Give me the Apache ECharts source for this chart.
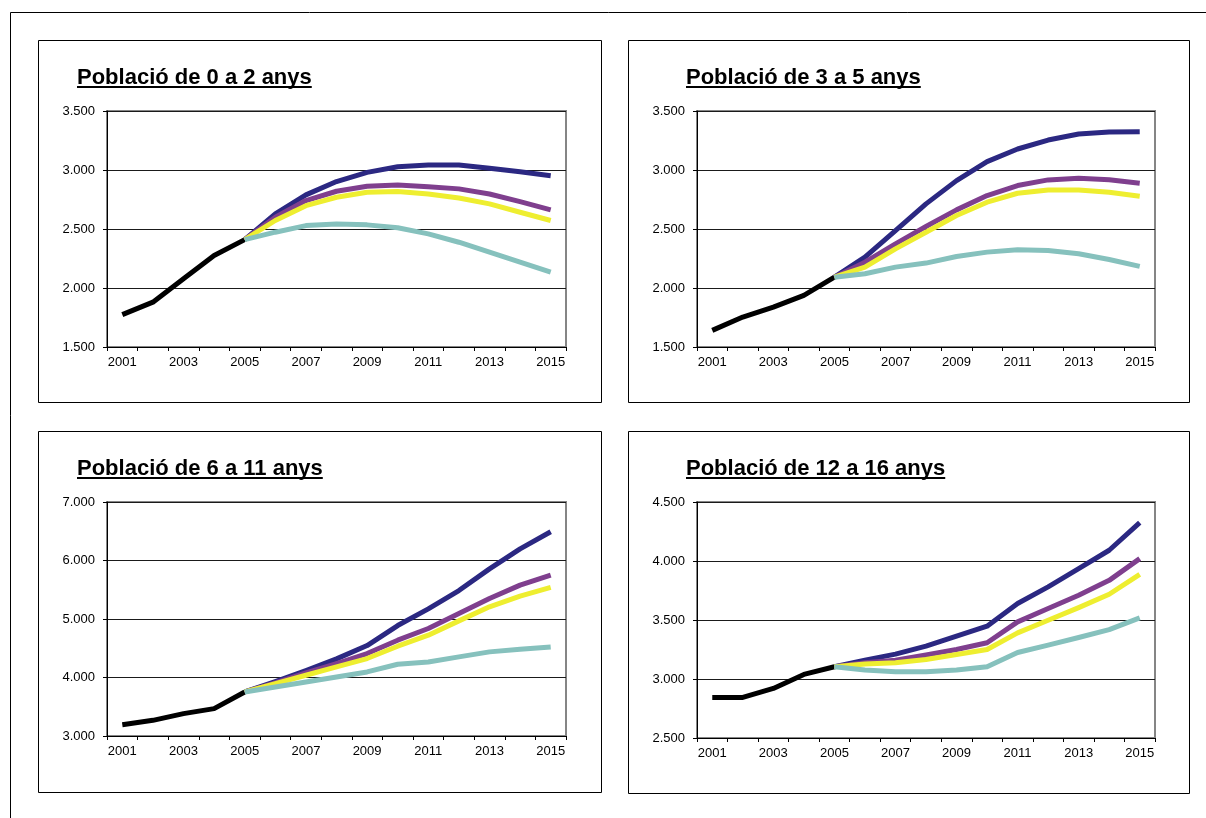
<!DOCTYPE html>
<html>
<head>
<meta charset="utf-8">
<script src="https://cdn.jsdelivr.net/npm/echarts@6/dist/echarts.min.js"></script>
<style>
html,body{margin:0;padding:0;background:#fff;}
#c{width:1206px;height:818px;}
</style>
</head>
<body>
<div id="c"></div>
<script>
// ---- data ----
const years = ['2001','2002','2003','2004','2005','2006','2007','2008','2009','2010','2011','2012','2013','2014','2015'];
const titles = ['Població de 0 a 2 anys','Població de 3 a 5 anys','Població de 6 a 11 anys','Població de 12 a 16 anys'];

// observed 2001-2005
const obs0_2   = [1774,1880,2078,2276,2410];
const obs3_5   = [1641,1754,1838,1937,2092];
const obs6_11  = [3194,3268,3382,3468,3753];
const obs12_16 = [2844,2844,2920,3039,3104];

// projections 2006-2015
const navy0_2   = [2628,2789,2902,2980,3028,3042,3042,3014,2986,2952];
const purple0_2 = [2600,2741,2820,2862,2873,2859,2840,2797,2732,2662];
const yellow0_2 = [2572,2698,2769,2811,2817,2797,2763,2713,2642,2572];
const teal0_2   = [2473,2529,2543,2535,2510,2459,2388,2304,2219,2135];

const navy3_5   = [2261,2487,2713,2910,3071,3178,3254,3305,3322,3325];
const purple3_5 = [2219,2374,2521,2662,2783,2868,2916,2930,2918,2887];
const yellow3_5 = [2177,2332,2473,2614,2727,2803,2831,2831,2811,2777];
const teal3_5   = [2121,2177,2211,2267,2304,2324,2318,2290,2242,2183];

const navy6_11   = [3930,4118,4318,4546,4888,5173,5486,5857,6199,6491];
const purple6_11 = [3907,4078,4238,4409,4638,4837,5094,5351,5579,5750];
const yellow6_11 = [3896,4038,4181,4324,4535,4723,4968,5208,5391,5539];
const teal6_11   = [3839,3924,4010,4095,4226,4266,4352,4438,4483,4523];

const navy12_16   = [3160,3211,3278,3363,3448,3640,3781,3936,4091,4325];
const purple12_16 = [3138,3160,3203,3250,3307,3484,3597,3710,3836,4020];
const yellow12_16 = [3127,3138,3166,3208,3250,3391,3498,3605,3718,3887];
const teal12_16   = [3076,3062,3062,3076,3104,3225,3287,3352,3419,3518];

// y axis ranges [min, max, interval]
const yRange0_2   = [1500,3500,500];
const yRange3_5   = [1500,3500,500];
const yRange6_11  = [3000,7000,1000];
const yRange12_16 = [2500,4500,500];

// ---- build ----
const panels = [
  {obs:obs0_2, proj:[navy0_2,purple0_2,yellow0_2,teal0_2], y:yRange0_2},
  {obs:obs3_5, proj:[navy3_5,purple3_5,yellow3_5,teal3_5], y:yRange3_5},
  {obs:obs6_11, proj:[navy6_11,purple6_11,yellow6_11,teal6_11], y:yRange6_11},
  {obs:obs12_16, proj:[navy12_16,purple12_16,yellow12_16,teal12_16], y:yRange12_16}
];
const projColors = ['#2b2882','#7f3f8e','#eeee30','#86c1bd'];
const FONT = '"Liberation Sans", Arial, sans-serif';

const grids = [
  {left:107, top:111, width:459, height:236},
  {left:697, top:111, width:458, height:236},
  {left:107, top:502, width:459, height:234},
  {left:697, top:502, width:458, height:236}
];
const boxes = [
  {x:38, y:40, w:563, h:362},
  {x:628, y:40, w:561, h:362},
  {x:38, y:431, w:563, h:361},
  {x:628, y:431, w:561, h:362}
];
const titlePos = [{x:77,y:67},{x:686,y:67},{x:77,y:458},{x:686,y:458}];

const fmt = v => String(v).replace(/\B(?=(\d{3})+(?!\d))/g, '.');

const cv = document.createElement('canvas').getContext('2d');
cv.font = 'bold 22px "Liberation Sans", Arial, sans-serif';

const option = {
  backgroundColor:'#fff',
  animation:false,
  title:[], grid:[], xAxis:[], yAxis:[], series:[], graphic:[]
};

// outer frame
option.graphic.push({type:'line', shape:{x1:10.5,y1:12.5,x2:1206,y2:12.5}, style:{stroke:'#000',lineWidth:1}, silent:true});
option.graphic.push({type:'line', shape:{x1:10.5,y1:12.5,x2:10.5,y2:818}, style:{stroke:'#000',lineWidth:1}, silent:true});

panels.forEach((p,i)=>{
  const b = boxes[i];
  option.graphic.push({type:'rect', shape:{x:b.x+0.5,y:b.y+0.5,width:b.w,height:b.h}, style:{fill:'none',stroke:'#000',lineWidth:1}, silent:true, z:-1});
  const tp = titlePos[i];
  option.title.push({text:titles[i], left:tp.x, top:tp.y, padding:0,
    textStyle:{fontFamily:FONT, fontSize:22, fontWeight:'bold', color:'#000'}});
  const tw = cv.measureText(titles[i]).width;
  option.graphic.push({type:'line', shape:{x1:tp.x, y1:tp.y+20, x2:tp.x+tw, y2:tp.y+20}, style:{stroke:'#000', lineWidth:2}, silent:true});

  option.grid.push(Object.assign({show:true, borderColor:'#858585', borderWidth:2, backgroundColor:'#fff'}, grids[i]));
  option.xAxis.push({type:'category', gridIndex:i, data:years, boundaryGap:true,
    axisLine:{show:true, lineStyle:{color:'#000', width:1}},
    axisTick:{show:true, interval:0, length:4, lineStyle:{color:'#000'}},
    axisLabel:{interval:1, margin:9, fontFamily:FONT, fontSize:13, color:'#000'},
    splitLine:{show:false}});
  option.yAxis.push({type:'value', gridIndex:i, min:p.y[0], max:p.y[1], interval:p.y[2],
    axisLine:{show:true, lineStyle:{color:'#000', width:1}},
    axisTick:{show:true, length:4, lineStyle:{color:'#000'}},
    axisLabel:{margin:12, fontFamily:FONT, fontSize:13, color:'#000', formatter:fmt},
    splitLine:{show:true, lineStyle:{color:'#1a1a1a', width:1}}});

  const nullsAfter = years.length - p.obs.length;
  const blackData = p.obs.concat(new Array(nullsAfter).fill(null));
  option.series.push({type:'line', xAxisIndex:i, yAxisIndex:i, data:blackData, showSymbol:false, symbol:'none',
    lineStyle:{color:'#000', width:5, join:'round'}, z:2});
  p.proj.forEach((arr,k)=>{
    const d = new Array(p.obs.length-1).fill(null).concat([p.obs[p.obs.length-1]]).concat(arr);
    option.series.push({type:'line', xAxisIndex:i, yAxisIndex:i, data:d, showSymbol:false, symbol:'none',
      lineStyle:{color:projColors[k], width:5, join:'round'}, z:3+k});
  });
});

const chart = echarts.init(document.getElementById('c'), null, {renderer:'canvas'});
chart.setOption(option);
</script>
</body>
</html>
